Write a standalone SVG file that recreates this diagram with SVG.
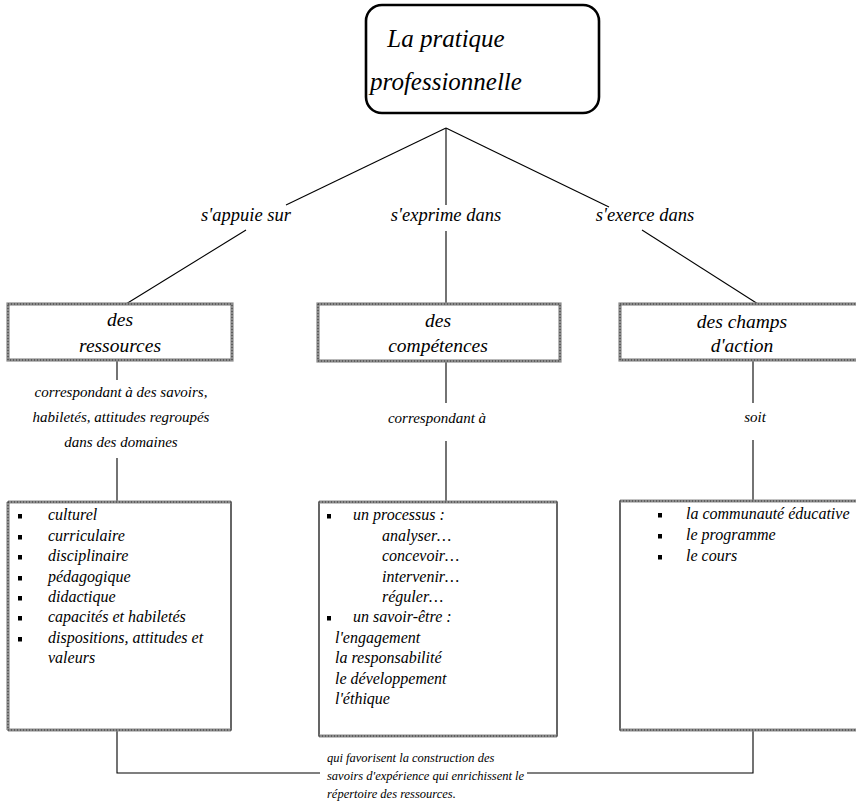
<svg xmlns="http://www.w3.org/2000/svg" width="856" height="806" viewBox="0 0 856 806">
<style>
text{font-family:"Liberation Serif","Times New Roman",serif;font-style:italic;fill:#000}
.title{font-size:25px}
.lbl{font-size:18.5px}
.box{font-size:19.5px}
.sub{font-size:15px}
.item{font-size:16px}
.note{font-size:12.5px}
.c{text-anchor:middle}
.ln{stroke:#000;stroke-width:1.1;fill:none}
.tex{stroke:#8a8a8a;stroke-width:3.2;fill:none}
.texd{stroke:#333;stroke-width:1;stroke-dasharray:1 2;fill:none}
.thin{stroke:#000;stroke-width:1.2;fill:none}
</style>
<defs>
<rect id="b" width="4" height="4.5"/>
</defs>
<rect width="856" height="806" fill="#fff"/>

<g id="connectors">
<line class="ln" x1="446" y1="128" x2="286" y2="205"/>
<line class="ln" x1="246" y1="230" x2="126" y2="304"/>
<line class="ln" x1="446" y1="128" x2="446" y2="205"/>
<line class="ln" x1="446" y1="231" x2="446" y2="304"/>
<line class="ln" x1="446" y1="128" x2="609" y2="207"/>
<line class="ln" x1="642" y1="230" x2="758" y2="304"/>
<line class="ln" x1="117" y1="360" x2="117" y2="380"/>
<line class="ln" x1="117" y1="458" x2="117" y2="502"/>
<line class="ln" x1="446" y1="361" x2="446" y2="403"/>
<line class="ln" x1="446" y1="441" x2="446" y2="502"/>
<line class="ln" x1="753" y1="360" x2="753" y2="403"/>
<line class="ln" x1="753" y1="440" x2="753" y2="501"/>
<polyline class="ln" points="117,731 117,773 320,773"/>
<polyline class="ln" points="527,773 753,773 753,731"/>
</g>

<g id="root">
<rect x="366" y="5" width="233" height="108" rx="16" ry="16" fill="#fff" stroke="#000" stroke-width="2.6"/>
<text class="title c" x="446" y="47">La pratique</text>
<text class="title c" x="446" y="90">professionnelle</text>
</g>

<g id="label-appuie"><text class="lbl c" x="246" y="221">s'appuie sur</text></g>
<g id="label-exprime"><text class="lbl c" x="446" y="221">s'exprime dans</text></g>
<g id="label-exerce"><text class="lbl c" x="645" y="221">s'exerce dans</text></g>

<g id="ressources">
<rect class="tex" x="8" y="304" width="224" height="56"/>
<rect class="texd" x="8" y="304" width="224" height="56"/>
<text class="box c" x="120" y="326">des</text>
<text class="box c" x="120" y="352">ressources</text>
</g>

<g id="competences">
<rect class="tex" x="318" y="304" width="242" height="57"/>
<rect class="texd" x="318" y="304" width="242" height="57"/>
<text class="box c" x="438" y="327">des</text>
<text class="box c" x="438" y="352">compétences</text>
</g>

<g id="champs">
<rect class="tex" x="620" y="304" width="245" height="56"/>
<rect class="texd" x="620" y="304" width="245" height="56"/>
<text class="box c" x="742" y="328">des champs</text>
<text class="box c" x="742" y="352">d'action</text>
</g>

<g id="label-ressources">
<text class="sub c" x="121" y="397">correspondant à des savoirs,</text>
<text class="sub c" x="121" y="422">habiletés, attitudes regroupés</text>
<text class="sub c" x="121" y="447">dans des domaines</text>
</g>
<g id="label-competences"><text class="sub c" x="437" y="423">correspondant à</text></g>
<g id="label-champs"><text class="sub c" x="755" y="422">soit</text></g>

<g id="domaines">
<rect class="thin" x="8" y="502" width="223" height="228"/>
<line class="tex" x1="8" y1="502" x2="231" y2="502"/>
<line class="tex" x1="8" y1="730" x2="231" y2="730"/>
<line class="tex" x1="8" y1="502" x2="8" y2="730"/>
<line class="texd" x1="8" y1="502" x2="231" y2="502"/>
<line class="texd" x1="8" y1="730" x2="231" y2="730"/>
<line class="texd" x1="8" y1="502" x2="8" y2="730"/>
<use href="#b" x="18" y="514"/>
<use href="#b" x="18" y="535"/>
<use href="#b" x="18" y="555"/>
<use href="#b" x="18" y="576"/>
<use href="#b" x="18" y="596"/>
<use href="#b" x="18" y="616"/>
<use href="#b" x="18" y="637"/>
<text class="item" x="48" y="520">culturel</text>
<text class="item" x="48" y="541">curriculaire</text>
<text class="item" x="48" y="561">disciplinaire</text>
<text class="item" x="48" y="582">pédagogique</text>
<text class="item" x="48" y="602">didactique</text>
<text class="item" x="48" y="622">capacités et habiletés</text>
<text class="item" x="48" y="643">dispositions, attitudes et</text>
<text class="item" x="48" y="663">valeurs</text>
</g>

<g id="processus">
<rect class="thin" x="319" y="502" width="238" height="234"/>
<line class="tex" x1="319" y1="502" x2="557" y2="502"/>
<line class="tex" x1="319" y1="736" x2="557" y2="736"/>
<line class="texd" x1="319" y1="502" x2="557" y2="502"/>
<line class="texd" x1="319" y1="736" x2="557" y2="736"/>
<use href="#b" x="327" y="514"/>
<use href="#b" x="327" y="616"/>
<text class="item" x="353" y="520">un processus :</text>
<text class="item" x="382" y="541">analyser…</text>
<text class="item" x="382" y="561">concevoir…</text>
<text class="item" x="382" y="582">intervenir…</text>
<text class="item" x="382" y="602">réguler…</text>
<text class="item" x="353" y="622">un savoir-être :</text>
<text class="item" x="335" y="643">l'engagement</text>
<text class="item" x="335" y="663">la responsabilité</text>
<text class="item" x="335" y="684">le développement</text>
<text class="item" x="335" y="704">l'éthique</text>
</g>

<g id="champs-liste">
<rect class="thin" x="620" y="501" width="246" height="229"/>
<line class="tex" x1="620" y1="501" x2="866" y2="501"/>
<line class="tex" x1="620" y1="730" x2="866" y2="730"/>
<line class="texd" x1="620" y1="501" x2="866" y2="501"/>
<line class="texd" x1="620" y1="730" x2="866" y2="730"/>
<use href="#b" x="658" y="513"/>
<use href="#b" x="658" y="534"/>
<use href="#b" x="658" y="555"/>
<text class="item" x="686" y="519">la communauté éducative</text>
<text class="item" x="686" y="540">le programme</text>
<text class="item" x="686" y="561">le cours</text>
</g>

<g id="note">
<text class="note" x="327" y="762">qui favorisent la construction des</text>
<text class="note" x="327" y="780">savoirs d'expérience qui enrichissent le</text>
<text class="note" x="327" y="798">répertoire des ressources.</text>
</g>
</svg>
